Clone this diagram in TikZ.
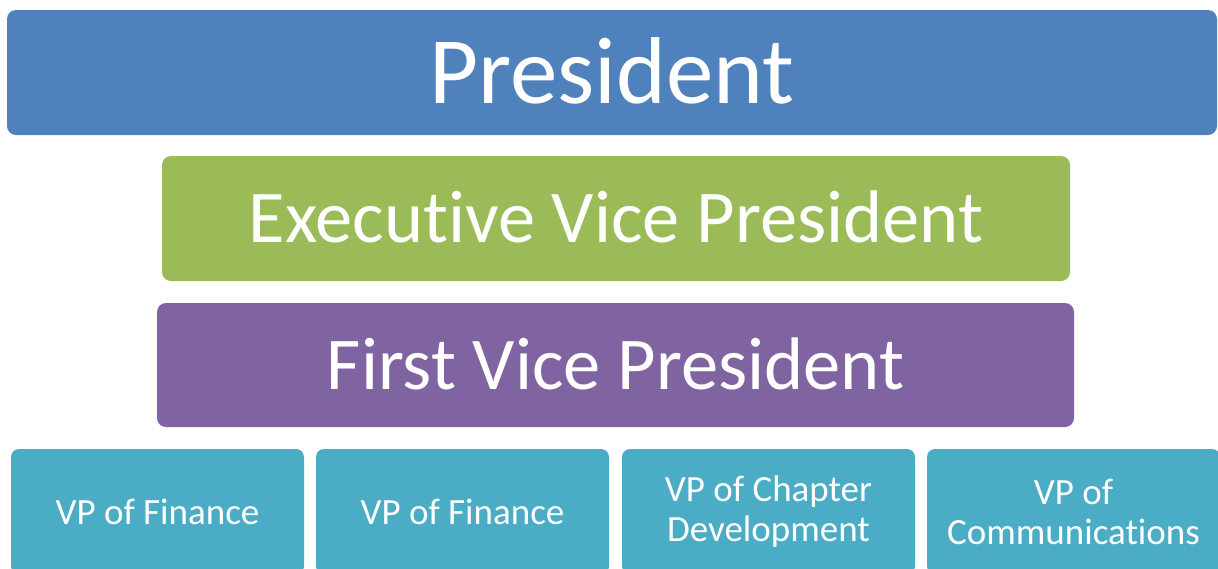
\documentclass[tikz,border=0pt]{standalone}
\usepackage{fontspec}
\setmainfont{Carlito}[Ligatures=NoCommon]
\definecolor{presblue}{HTML}{4F81BD}
\definecolor{evpgreen}{HTML}{9BBB59}
\definecolor{fvppurple}{HTML}{8064A2}
\definecolor{vpteal}{HTML}{4BACC6}
\tikzset{
  rank/.style = {
    rounded corners=9pt, inner sep=0pt, text=white,
    minimum height=125pt, anchor=center
  },
  vpbox/.style = {
    rank, fill=vpteal, minimum width=293pt, rounded corners=8pt,
    align=center, font=\fontsize{37}{40}\selectfont
  }
}

\begin{document}
\begin{tikzpicture}[x=1pt,y=-1pt]
  \useasboundingbox (0,0) rectangle (1218,568);
  \clip (0,0) rectangle (1218,568);
  %
  \node[rank, fill=presblue, minimum width=1210pt,
        font=\fontsize{95}{95}\selectfont, text height=61pt, text depth=0pt]
    (pres) at (612,72.5) {President};
  %
  \node[rank, fill=evpgreen, minimum width=908pt,
        font=\fontsize{74.5}{74.5}\selectfont, text height=48pt, text depth=0pt]
    (evp) at (616,218.5) {Executive Vice President};
  \node[rank, fill=fvppurple, minimum width=917pt, minimum height=124pt,
        font=\fontsize{74.5}{74.5}\selectfont, text height=48pt, text depth=0pt]
    (fvp) at (615.5,365) {First Vice President};
  %
  \node[vpbox] (vpfin)  at (157.5,511.5)  {VP of Finance};
  \node[vpbox] (vpfinb) at (462.5,511.5)  {VP of Finance};
  \node[vpbox] (vpchap) at (768.5,511.5)  {VP of Chapter\\Development};
  \node[vpbox] (vpcomm) at (1073.5,511.5) {VP of\\Communications};
\end{tikzpicture}
\end{document}
